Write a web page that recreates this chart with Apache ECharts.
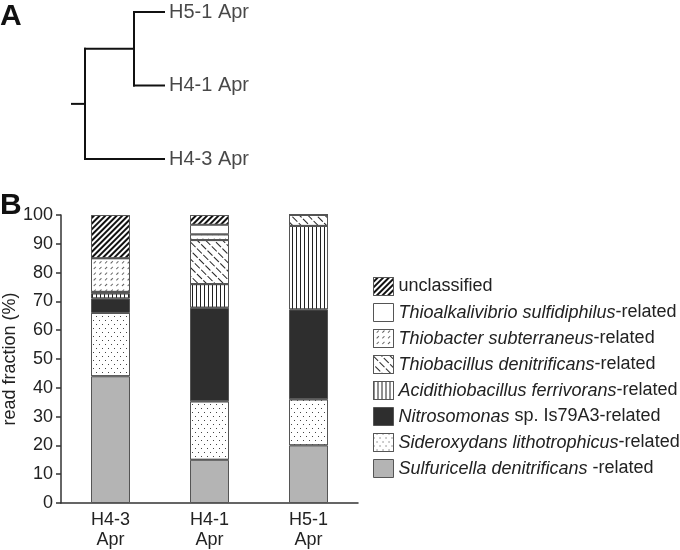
<!DOCTYPE html>
<html>
<head>
<meta charset="utf-8">
<script src="https://cdn.jsdelivr.net/npm/echarts@6/dist/echarts.min.js"></script>
<style>
  html, body { margin: 0; padding: 0; background: #fff; }
  #chart { width: 680px; height: 550px; }
</style>
</head>
<body>
<div id="chart"></div>
<script>
// --- panel A: dendrogram ---
var leafNames = ['H5-1 Apr', 'H4-1 Apr', 'H4-3 Apr'];
// merges: [node a, node b, height]; new nodes get index 3, 4, ...
var treeMerges = [[0, 1, 30], [3, 2, 79]];
var rootStub = 13;

// --- panel B: stacked bars ---
var sites = ['H4-3\nApr', 'H4-1\nApr', 'H5-1\nApr'];
var sulfuricella = [44, 15, 20];
var sideroxydans = [22, 20.3, 16];
var nitrosomonas = [5, 32.5, 31.2];
var acidithiobacillus = [1.8, 8.2, 29];
var thiobacillus = [0.5, 15.3, 3.8];
var thiobacter = [11.7, 2, 0];
var thioalkalivibrio = [0, 3.3, 0];
var unclassified = [15, 3.4, 0];
var yTicks = [0, 10, 20, 30, 40, 50, 60, 70, 80, 90, 100];

var FONT = 'Liberation Sans';

// build dendrogram segments from the merge list
function buildTree() {
    var nodes = [];
    for (var i = 0; i < leafNames.length; i++) {
        nodes.push({x: 0, y: i});
    }
    var segs = [];
    for (var m = 0; m < treeMerges.length; m++) {
        var a = nodes[treeMerges[m][0]];
        var b = nodes[treeMerges[m][1]];
        var h = treeMerges[m][2];
        segs.push([a.x, a.y, h, a.y]);
        segs.push([b.x, b.y, h, b.y]);
        segs.push([h, a.y, h, b.y]);
        nodes.push({x: h, y: (a.y + b.y) / 2});
    }
    var root = nodes[nodes.length - 1];
    segs.push([root.x, root.y, root.x + rootStub, root.y]);
    return segs;
}

function richName(italic, rest) {
    return '{i|' + italic + '}' + rest;
}

var legendOrder = ['unclassified', 'thioalkalivibrio', 'thiobacter', 'thiobacillus',
    'acidithiobacillus', 'nitrosomonas', 'sideroxydans', 'sulfuricella'];
var legendLabels = {
    unclassified: 'unclassified',
    thioalkalivibrio: richName('Thioalkalivibrio sulfidiphilus', '-related'),
    thiobacter: richName('Thiobacter subterraneus', '-related'),
    thiobacillus: richName('Thiobacillus denitrificans', '-related'),
    acidithiobacillus: richName('Acidithiobacillus ferrivorans', '-related'),
    nitrosomonas: richName('Nitrosomonas', ' sp. Is79A3-related'),
    sideroxydans: richName('Sideroxydans lithotrophicus', '-related'),
    sulfuricella: richName('Sulfuricella denitrificans', ' -related')
};

function barSeries(name, values, color, decal) {
    var s = {
        name: name,
        type: 'bar',
        stack: 'total',
        barWidth: 39,
        xAxisIndex: 0,
        yAxisIndex: 0,
        data: values,
        itemStyle: {
            color: color,
            borderColor: '#555',
            borderWidth: 1
        },
        emphasis: {disabled: true}
    };
    if (decal) {
        s.itemStyle.decal = decal;
    }
    return s;
}

var chart = echarts.init(document.getElementById('chart'));
var treeSegs = buildTree();

chart.setOption({
    animation: false,
    textStyle: {fontFamily: FONT},
    graphic: [
        {type: 'text', left: 0, top: 2, style: {text: 'A', font: 'bold 30px ' + FONT, fill: '#111'}},
        {type: 'text', left: 0, top: 191, style: {text: 'B', font: 'bold 30px ' + FONT, fill: '#111'}}
    ],
    legend: {
        orient: 'vertical',
        left: 368,
        top: 272,
        itemWidth: 20,
        itemHeight: 18,
        itemGap: 7,
        icon: 'rect',
        data: legendOrder,
        formatter: function (name) {
            return legendLabels[name];
        },
        textStyle: {
            fontSize: 18,
            color: '#222',
            fontFamily: FONT,
            rich: {
                i: {fontStyle: 'italic', fontSize: 18, color: '#222', fontFamily: FONT}
            }
        },
        itemStyle: {borderColor: '#555', borderWidth: 1}
    },
    grid: [
        {left: 61, top: 215, width: 297, height: 289},
        {left: 72, top: 12, width: 92, height: 147}
    ],
    xAxis: [{
        type: 'category',
        gridIndex: 0,
        data: sites,
        axisLine: {lineStyle: {color: '#333', width: 1.5}},
        axisTick: {length: 5, lineStyle: {color: '#333', width: 1.5}},
        axisLabel: {fontSize: 18, color: '#222', lineHeight: 20, margin: 7}
    }, {
        type: 'value',
        gridIndex: 1,
        inverse: true,
        min: 0,
        max: 92,
        show: false
    }],
    yAxis: [{
        type: 'value',
        gridIndex: 0,
        min: yTicks[0],
        max: yTicks[yTicks.length - 1],
        interval: 10,
        name: 'read fraction (%)',
        nameLocation: 'middle',
        nameRotate: 90,
        nameGap: 40,
        nameTextStyle: {fontSize: 18, color: '#222'},
        splitLine: {show: false},
        axisLine: {show: true, lineStyle: {color: '#333', width: 1.5}},
        axisTick: {show: true, length: 5, lineStyle: {color: '#333', width: 1.5}},
        axisLabel: {fontSize: 18, color: '#222', margin: 8}
    }, {
        type: 'value',
        gridIndex: 1,
        inverse: true,
        min: 0,
        max: leafNames.length - 1,
        show: false
    }],
    series: [
        barSeries('sulfuricella', sulfuricella, '#b4b4b4'),
        barSeries('sideroxydans', sideroxydans, '#fff', {
            color: '#444', dashArrayX: [[1, 5], [0, 3, 1, 2]], dashArrayY: [1, 3]
        }),
        barSeries('nitrosomonas', nitrosomonas, '#2e2e2e'),
        barSeries('acidithiobacillus', acidithiobacillus, '#fff', {
            color: '#222', dashArrayX: [1, 3], dashArrayY: [1, 0]
        }),
        barSeries('thiobacillus', thiobacillus, '#fff', {
            color: '#222', dashArrayX: [[7, 2]], dashArrayY: [1, 5], rotation: Math.PI / 4
        }),
        barSeries('thiobacter', thiobacter, '#fff', {
            color: '#666', dashArrayX: [[3, 5], [0, 4, 3, 1]], dashArrayY: [1, 3], rotation: -Math.PI / 4
        }),
        barSeries('thioalkalivibrio', thioalkalivibrio, '#fff'),
        barSeries('unclassified', unclassified, '#111', {
            color: '#fff', dashArrayX: [1, 0], dashArrayY: [2, 2], rotation: -Math.PI / 4
        }),
        {
            type: 'custom',
            xAxisIndex: 1,
            yAxisIndex: 1,
            silent: true,
            data: treeSegs,
            renderItem: function (params, api) {
                var p1 = api.coord([api.value(0), api.value(1)]);
                var p2 = api.coord([api.value(2), api.value(3)]);
                return {
                    type: 'line',
                    shape: {x1: p1[0], y1: p1[1], x2: p2[0], y2: p2[1]},
                    style: {stroke: '#111', lineWidth: 2, lineCap: 'square'}
                };
            }
        },
        {
            type: 'scatter',
            xAxisIndex: 1,
            yAxisIndex: 1,
            symbolSize: 0,
            silent: true,
            data: leafNames.map(function (n, i) {
                return {name: n, value: [0, i]};
            }),
            label: {
                show: true,
                position: 'right',
                distance: 5,
                formatter: '{b}',
                fontSize: 20,
                color: '#1a1a1a',
                fontFamily: FONT
            }
        }
    ]
});
</script>
</body>
</html>
